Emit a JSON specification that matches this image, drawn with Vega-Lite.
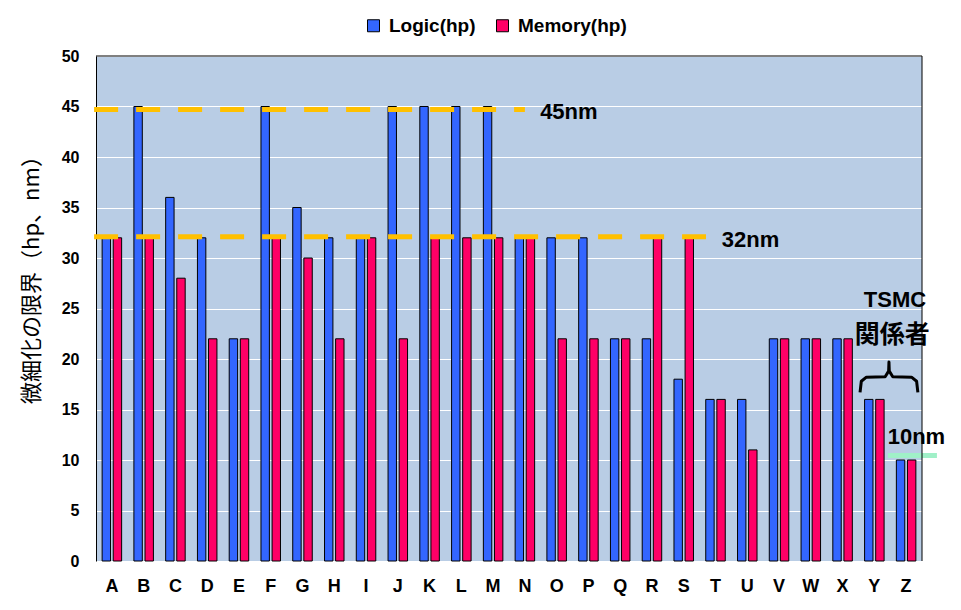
{
  "$schema": "https://vega.github.io/schema/vega-lite/v6.json",
  "width": 826,
  "height": 505,
  "autosize": {"type": "none"},
  "padding": {"left": 96, "top": 56, "right": 39, "bottom": 49},
  "background": "white",
  "config": {
    "view": {"stroke": null, "fill": "#B9CDE5"},
    "font": "Liberation Sans",
    "axis": {"labelFont": "Liberation Sans", "labelFontWeight": "bold", "labelColor": "black"},
    "legend": {
      "orient": "none",
      "direction": "horizontal",
      "legendX": 268,
      "legendY": -40,
      "title": null,
      "symbolType": "square",
      "symbolSize": 144,
      "symbolStrokeColor": "black",
      "symbolStrokeWidth": 1,
      "symbolOpacity": 1,
      "labelFont": "Liberation Sans",
      "labelFontWeight": "bold",
      "labelFontSize": 19,
      "labelColor": "black",
      "labelOffset": 6,
      "columnPadding": 17
    }
  },
  "datasets": {
    "bars": [
      {"company": "A", "type": "Logic(hp)", "value": 32}, {"company": "A", "type": "Memory(hp)", "value": 32},
      {"company": "B", "type": "Logic(hp)", "value": 45}, {"company": "B", "type": "Memory(hp)", "value": 32},
      {"company": "C", "type": "Logic(hp)", "value": 36}, {"company": "C", "type": "Memory(hp)", "value": 28},
      {"company": "D", "type": "Logic(hp)", "value": 32}, {"company": "D", "type": "Memory(hp)", "value": 22},
      {"company": "E", "type": "Logic(hp)", "value": 22}, {"company": "E", "type": "Memory(hp)", "value": 22},
      {"company": "F", "type": "Logic(hp)", "value": 45}, {"company": "F", "type": "Memory(hp)", "value": 32},
      {"company": "G", "type": "Logic(hp)", "value": 35}, {"company": "G", "type": "Memory(hp)", "value": 30},
      {"company": "H", "type": "Logic(hp)", "value": 32}, {"company": "H", "type": "Memory(hp)", "value": 22},
      {"company": "I", "type": "Logic(hp)", "value": 32}, {"company": "I", "type": "Memory(hp)", "value": 32},
      {"company": "J", "type": "Logic(hp)", "value": 45}, {"company": "J", "type": "Memory(hp)", "value": 22},
      {"company": "K", "type": "Logic(hp)", "value": 45}, {"company": "K", "type": "Memory(hp)", "value": 32},
      {"company": "L", "type": "Logic(hp)", "value": 45}, {"company": "L", "type": "Memory(hp)", "value": 32},
      {"company": "M", "type": "Logic(hp)", "value": 45}, {"company": "M", "type": "Memory(hp)", "value": 32},
      {"company": "N", "type": "Logic(hp)", "value": 32}, {"company": "N", "type": "Memory(hp)", "value": 32},
      {"company": "O", "type": "Logic(hp)", "value": 32}, {"company": "O", "type": "Memory(hp)", "value": 22},
      {"company": "P", "type": "Logic(hp)", "value": 32}, {"company": "P", "type": "Memory(hp)", "value": 22},
      {"company": "Q", "type": "Logic(hp)", "value": 22}, {"company": "Q", "type": "Memory(hp)", "value": 22},
      {"company": "R", "type": "Logic(hp)", "value": 22}, {"company": "R", "type": "Memory(hp)", "value": 32},
      {"company": "S", "type": "Logic(hp)", "value": 18}, {"company": "S", "type": "Memory(hp)", "value": 32},
      {"company": "T", "type": "Logic(hp)", "value": 16}, {"company": "T", "type": "Memory(hp)", "value": 16},
      {"company": "U", "type": "Logic(hp)", "value": 16}, {"company": "U", "type": "Memory(hp)", "value": 11},
      {"company": "V", "type": "Logic(hp)", "value": 22}, {"company": "V", "type": "Memory(hp)", "value": 22},
      {"company": "W", "type": "Logic(hp)", "value": 22}, {"company": "W", "type": "Memory(hp)", "value": 22},
      {"company": "X", "type": "Logic(hp)", "value": 22}, {"company": "X", "type": "Memory(hp)", "value": 22},
      {"company": "Y", "type": "Logic(hp)", "value": 16}, {"company": "Y", "type": "Memory(hp)", "value": 16},
      {"company": "Z", "type": "Logic(hp)", "value": 10}, {"company": "Z", "type": "Memory(hp)", "value": 10}
    ],
    "dashed": [
      {"x": -0.06, "x2": 13.5, "value": 44.7},
      {"x": -0.06, "x2": 19.2, "value": 32.1}
    ],
    "green": [
      {"x": 24.93, "x2": 26.47, "value": 10.45}
    ],
    "border": [
      {"x": 26}
    ],
    "nmLabels": [
      {"text": "45nm", "x": 13.98, "value": 44.5},
      {"text": "32nm", "x": 19.7, "value": 31.8},
      {"text": "10nm", "x": 24.92, "value": 12.3},
      {"text": "TSMC", "x": 24.17, "value": 25.85}
    ],
    "jpLabels": [
      {"text": "関係者", "x": 25.06, "value": 22.4}
    ],
    "brace": [
      {"order": 1, "x": 24.05, "value": 16.7},
      {"order": 2, "x": 24.09, "value": 17.8},
      {"order": 3, "x": 24.25, "value": 18.2},
      {"order": 4, "x": 24.84, "value": 18.25},
      {"order": 5, "x": 24.95, "value": 18.8},
      {"order": 6, "x": 24.96, "value": 19.7},
      {"order": 7, "x": 24.97, "value": 18.8},
      {"order": 8, "x": 25.08, "value": 18.25},
      {"order": 9, "x": 25.67, "value": 18.2},
      {"order": 10, "x": 25.83, "value": 17.8},
      {"order": 11, "x": 25.87, "value": 16.7}
    ]
  },
  "resolve": {"scale": {"x": "independent"}, "axis": {"x": "independent"}},
  "layer": [
    {
      "data": {"name": "bars"},
      "mark": {"type": "bar", "stroke": "black", "strokeWidth": 1},
      "encoding": {
        "x": {
          "field": "company", "type": "nominal",
          "scale": {"paddingInner": 0.386, "paddingOuter": 0.193},
          "axis": {"title": null, "labelAngle": 0, "ticks": false, "domain": false, "labelFontSize": 18, "labelPadding": 16, "grid": false}
        },
        "xOffset": {"field": "type", "type": "nominal", "scale": {"paddingInner": 0.243, "paddingOuter": 0}},
        "y": {
          "field": "value", "type": "quantitative",
          "scale": {"domain": [0, 50], "nice": false},
          "axis": {
            "title": "微細化の限界（hp、nm）",
            "titleFont": "Noto Sans CJK JP",
            "titleFontWeight": "normal",
            "titleFontSize": 22,
            "titleColor": "black",
            "titleX": -65,
            "titleY": 218,
            "titleAlign": "center",
            "titleBaseline": "middle",
            "titleAngle": -90,
            "values": [0, 5, 10, 15, 20, 25, 30, 35, 40, 45, 50],
            "ticks": false,
            "domain": true,
            "domainColor": "black",
            "domainWidth": 1,
            "grid": true,
            "gridColor": "white",
            "gridWidth": 1,
            "gridOpacity": 1,
            "labelFontSize": 16,
            "labelPadding": 17
          }
        },
        "color": {
          "field": "type", "type": "nominal",
          "scale": {"domain": ["Logic(hp)", "Memory(hp)"], "range": ["#3366FF", "#FF0066"]}
        }
      }
    },
    {
      "layer": [
        {
          "data": {"name": "dashed"},
          "mark": {"type": "rule", "color": "#FFC000", "strokeWidth": 5, "strokeDash": [24, 18], "strokeCap": "butt"},
          "encoding": {
            "x": {"field": "x", "type": "quantitative", "scale": {"domain": [0, 26], "nice": false, "zero": false}, "axis": null},
            "x2": {"field": "x2"},
            "y": {"field": "value", "type": "quantitative"}
          }
        },
        {
          "data": {"name": "green"},
          "mark": {"type": "rule", "color": "#A0F0C8", "strokeWidth": 5, "strokeCap": "butt"},
          "encoding": {
            "x": {"field": "x", "type": "quantitative", "axis": null},
            "x2": {"field": "x2"},
            "y": {"field": "value", "type": "quantitative"}
          }
        },
        {
          "data": {"name": "border"},
          "mark": {"type": "rule", "color": "black", "strokeWidth": 1},
          "encoding": {
            "x": {"field": "x", "type": "quantitative", "axis": null}
          }
        },
        {
          "data": {"values": [{"value": 50}]},
          "mark": {"type": "rule", "color": "black", "strokeWidth": 1},
          "encoding": {
            "y": {"field": "value", "type": "quantitative"}
          }
        },
        {
          "data": {"name": "brace"},
          "mark": {"type": "line", "color": "black", "strokeWidth": 3, "strokeJoin": "round", "strokeCap": "butt"},
          "encoding": {
            "x": {"field": "x", "type": "quantitative", "axis": null},
            "y": {"field": "value", "type": "quantitative"},
            "order": {"field": "order", "type": "quantitative"}
          }
        },
        {
          "data": {"name": "nmLabels"},
          "mark": {"type": "text", "align": "left", "baseline": "middle", "font": "Liberation Sans", "fontWeight": "bold", "fontSize": 22, "color": "black"},
          "encoding": {
            "x": {"field": "x", "type": "quantitative", "axis": null},
            "y": {"field": "value", "type": "quantitative"},
            "text": {"field": "text"}
          }
        },
        {
          "data": {"name": "jpLabels"},
          "mark": {"type": "text", "align": "center", "baseline": "middle", "font": "Noto Sans CJK JP", "fontWeight": "bold", "fontSize": 25, "color": "black"},
          "encoding": {
            "x": {"field": "x", "type": "quantitative", "axis": null},
            "y": {"field": "value", "type": "quantitative"},
            "text": {"field": "text"}
          }
        }
      ]
    }
  ]
}
